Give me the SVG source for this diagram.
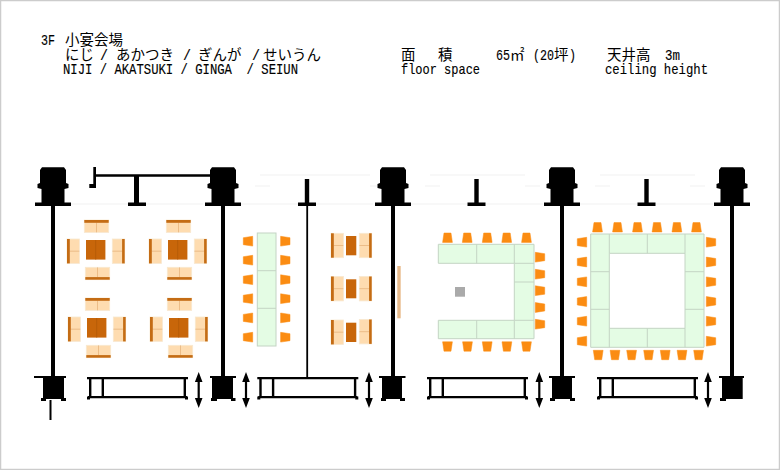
<svg xmlns="http://www.w3.org/2000/svg" width="780" height="470" viewBox="0 0 780 470">
<style>
text{font-family:"Liberation Mono","Noto Sans CJK JP",monospace;font-size:15px;fill:#000;white-space:pre;stroke:#000;stroke-width:.15}
.j{font-family:"Noto Sans CJK JP","Liberation Sans",sans-serif;font-size:14.5px;stroke:none}
.k{fill:#000;stroke:none}
.faint{stroke:#f1f1f1;fill:none;stroke-width:1}
.cu{fill:#fedcb0;stroke:#f8e8d0;stroke-width:.8}
.ba{fill:#c46c14}
.tb{fill:#c8660a}
.dv{stroke:#b25a08;stroke-width:.8}
.ch{fill:#fb8c12;stroke:#fb8c12;stroke-width:.5;stroke-linejoin:round}
.gt{fill:#e4fce4;stroke:#c4d4c4;stroke-width:1}
</style>
<defs>
<g id="coltop"><path class="k" d="M-11 167.3H11L13 170V183L15.5 184V188L11.5 189V202.5H18V206H-18V202.5H-11.5V189L-15.5 188V184L-13 183V170Z"/></g>
<g id="coltee"><rect class="k" x="-2.2" y="179" width="4.4" height="24"/><rect class="k" x="-9" y="202.5" width="18" height="3.5"/></g>
<g id="win"><path class="k" d="M0 0H101V2.2H0ZM2 1H4.4V20H2ZM14.6 1H17V20H14.6ZM96.6 1H99V20H96.6ZM1 19H100V21.2H1Z"/><rect class="k" x="0" y="19.5" width="3" height="3"/><rect class="k" x="98" y="19.5" width="3" height="3"/></g>
<g id="arr"><path class="k" d="M0 0L3.8 10H1.1V26H3.8L0 36L-3.8 26H-1.1V10H-3.8Z"/></g>
<g id="sofa-t"><rect class="cu" x="0" y="0" width="24.4" height="12.4"/><rect class="ba" x="0" y="0" width="24.4" height="2.8"/><path class="dv" d="M12.2 2.8V12.4" stroke-opacity=".3"/></g>
<g id="sofa-b"><rect class="cu" x="0" y="0" width="24.4" height="12.4"/><rect class="ba" x="0" y="9.8" width="24.4" height="2.6"/><path class="dv" d="M12.2 0V9.8" stroke-opacity=".3"/></g>
<g id="sofa-l"><rect class="cu" x="0" y="0" width="12.4" height="24.4"/><rect class="ba" x="0" y="0" width="2.8" height="24.4"/><path class="dv" d="M2.8 12.2H12.4" stroke-opacity=".3"/></g>
<g id="sofa-r"><rect class="cu" x="0" y="0" width="12.4" height="24.4"/><rect class="ba" x="9.8" y="0" width="2.6" height="24.4"/><path class="dv" d="M0 12.2H9.8" stroke-opacity=".3"/></g>
<g id="tab"><rect class="tb" x="0" y="0" width="19.4" height="19.6"/><path class="dv" d="M9.7 0V19.6"/></g>
<g id="ct"><path class="ch" d="M1.7 .3H8.7L10.1 9.7H.3Z"/></g>
<g id="cb"><path class="ch" d="M.3 .3H10.1L8.7 9.7H1.7Z"/></g>
<g id="cl"><path class="ch" d="M.3 1.7L9.7 .3V10.1L.3 8.7Z"/></g>
<g id="cr"><path class="ch" d="M.3 .3L9.7 1.7V8.7L.3 10.1Z"/></g>
<g id="set"><use href="#sofa-t" x="17.3" y="0"/><use href="#tab" x="19" y="20"/><use href="#sofa-l" x="0" y="19"/><use href="#sofa-r" x="45.3" y="19"/><use href="#sofa-b" x="18.3" y="47.3"/></g>
</defs>
<rect x="0.5" y="0.5" width="779" height="469" fill="#fff" stroke="#ccc" stroke-width="1.5"/>
<g id="title">
<text x="41" y="45" textLength="14" lengthAdjust="spacingAndGlyphs">3F</text><text class="j" x="65" y="45">小宴会場</text>
<text class="j" x="65" y="60">にじ</text><text x="100" y="60" textLength="8" lengthAdjust="spacingAndGlyphs">/</text><text class="j" x="116" y="60">あかつき</text><text x="183" y="60" textLength="8" lengthAdjust="spacingAndGlyphs">/</text><text class="j" x="198" y="60">ぎんが</text><text x="252" y="60" textLength="8" lengthAdjust="spacingAndGlyphs">/</text><text class="j" x="263" y="60">せいうん</text>
<text x="63" y="74" textLength="235" lengthAdjust="spacingAndGlyphs">NIJI / AKATSUKI / GINGA  / SEIUN</text>
<text class="j" x="401" y="60">面</text><text class="j" x="438" y="60">積</text>
<text x="496" y="60" textLength="14" lengthAdjust="spacingAndGlyphs">65</text><text class="j" x="510" y="60">㎡</text>
<text x="533" y="60" textLength="7" lengthAdjust="spacingAndGlyphs">(</text><text x="540" y="60" textLength="14" lengthAdjust="spacingAndGlyphs">20</text><text class="j" x="554" y="60">坪</text><text x="569" y="60" textLength="7" lengthAdjust="spacingAndGlyphs">)</text>
<text class="j" x="607" y="60">天井高</text><text x="665" y="60" textLength="15" lengthAdjust="spacingAndGlyphs">3m</text>
<text x="401" y="74" textLength="79" lengthAdjust="spacingAndGlyphs">floor space</text>
<text x="605" y="74" textLength="103" lengthAdjust="spacingAndGlyphs">ceiling height</text>
</g>
<g id="connectors">
<g id="faint-traces"><path class="faint" d="M71 204H128M146 204H203M240 204H298M316 204H373M410 204H467M486 204H543M580 204H637M656 204H713M260 175H370M430 175H525M600 175H695M255 186H270M370 186H385M425 186H440M525 186H540M595 186H610M690 186H705"/></g>
<path class="k" d="M51 205H55V377H51ZM221 205H225V377H221ZM391 205H395V377H391ZM560 205H564V377H560ZM730 205H734V377H730Z"/>
<rect class="k" x="306.3" y="205" width="1.8" height="172"/>
<path class="k" d="M93.3 167H96V188H89.3V184H93.3ZM96 174.3H210V176.7H96ZM134 176H139V203H134ZM128 202.5H146V206H128Z"/>
<rect class="k" x="49.5" y="400" width="2" height="20"/>
</g>
<g id="columns-top">
<use href="#coltop" x="53"/><use href="#coltop" x="223"/><use href="#coltop" x="393"/><use href="#coltop" x="562"/><use href="#coltop" x="732"/>
<use href="#coltee" x="307"/><use href="#coltee" x="476.5"/><use href="#coltee" x="646.5"/>
</g>
<g id="columns-bottom">
<g id="cb1"><path class="k" d="M34 376H66V378H64V398H66V401H61V399H46V401H41V398H43V378H34Z"/></g>
<g id="cb2"><path class="k" d="M210 376H236V378H233V398H235.5V401H231V399H217V401H211V398H212V378H210Z"/></g>
<g id="cb3"><path class="k" d="M379 376H405.5V378H402V398H405V401H400V399H386V401H381V398H382V378H379Z"/></g>
<g id="cb4"><path class="k" d="M549 376H575V378H572V398H575V401H570V399H555V401H550V398H552V378H549Z"/></g>
<g id="cb5"><path class="k" d="M719 376H744V378H742.7V399H726V401H720V398H722V378H719Z"/></g>
</g>
<g id="windows">
<use href="#win" x="87" y="377"/><use href="#win" x="257.3" y="377"/><use href="#win" x="427" y="377"/><use href="#win" x="597" y="377"/>
<use href="#arr" x="198.7" y="372"/><use href="#arr" x="246" y="372"/><use href="#arr" x="369" y="372"/><use href="#arr" x="539.3" y="372"/><use href="#arr" x="708" y="372"/>
</g>
<g id="room-niji">
<use href="#set" x="67" y="220"/><use href="#set" x="149" y="220"/><use href="#set" x="68" y="298"/><use href="#set" x="150" y="298"/>
</g>
<g id="room-akatsuki">
<rect class="gt" x="257.3" y="233" width="18.7" height="113"/><path class="gt" d="M257.3 270.7H276M257.3 308.3H276"/>
<use href="#cl" x="243" y="236"/><use href="#cl" x="243" y="255"/><use href="#cl" x="243" y="274.5"/><use href="#cl" x="243" y="293.5"/><use href="#cl" x="243" y="312.7"/><use href="#cl" x="243" y="332"/>
<use href="#cr" x="280.3" y="236"/><use href="#cr" x="280.3" y="255"/><use href="#cr" x="280.3" y="274.5"/><use href="#cr" x="280.3" y="293.5"/><use href="#cr" x="280.3" y="312.7"/><use href="#cr" x="280.3" y="332"/>
<use href="#sofa-l" x="331" y="233.3"/><rect class="tb" x="346" y="236" width="10.3" height="19.3"/><use href="#sofa-r" x="359.3" y="233.3"/>
<use href="#sofa-l" x="331" y="276.5"/><rect class="tb" x="346" y="279.3" width="10.3" height="19"/><use href="#sofa-r" x="359.3" y="276.5"/>
<use href="#sofa-l" x="331" y="320"/><rect class="tb" x="346" y="322.7" width="10.3" height="19.3"/><use href="#sofa-r" x="359.3" y="319.5"/>
<rect x="397.3" y="266" width="3.4" height="52.3" fill="#e8bb8c"/>
</g>
<g id="room-ginga">
<path class="gt" d="M438.3 244.3H534V338.7H438.3V320.3H514.3V263.3H438.3Z"/>
<path class="gt" d="M476.7 244.3V263.3M514.3 244.3V263.3M514.3 263.3H534M514.3 282H534M514.3 320.3H534M476.7 320.3V338.7M514.3 320.3V338.7"/>
<use href="#ct" x="442.3" y="232.7"/><use href="#ct" x="462" y="232.7"/><use href="#ct" x="482" y="232.7"/><use href="#ct" x="501.5" y="232.7"/><use href="#ct" x="521.3" y="232.7"/>
<use href="#cr" x="535" y="252"/><use href="#cr" x="535" y="269"/><use href="#cr" x="535" y="285.5"/><use href="#cr" x="535" y="302.3"/><use href="#cr" x="535" y="319"/>
<use href="#cb" x="442.3" y="341.5"/><use href="#cb" x="462.3" y="341.5"/><use href="#cb" x="482" y="341.5"/><use href="#cb" x="501.7" y="341.5"/><use href="#cb" x="521.3" y="341.5"/>
<rect x="455" y="287" width="10" height="9.7" fill="#aaa"/>
</g>
<g id="room-seiun">
<path class="gt" d="M590.7 234H704V347.3H590.7ZM609.3 253.3V328.3H685V253.3Z" fill-rule="evenodd"/>
<path class="gt" d="M609.3 234V253.3M647.3 234V253.3M685 234V253.3M647.3 328.3V347.3M609.3 328.3V347.3M685 328.3V347.3M590.7 271.7H609.3M590.7 309.3H609.3M685 271.7H704M685 309.3H704"/>
<use href="#ct" x="592.3" y="222.3"/><use href="#ct" x="612.3" y="222.3"/><use href="#ct" x="632.3" y="222.3"/><use href="#ct" x="651.8" y="222.3"/><use href="#ct" x="671.7" y="222.3"/><use href="#ct" x="691.3" y="222.3"/>
<use href="#cl" x="577" y="237"/><use href="#cl" x="577" y="256.8"/><use href="#cl" x="577" y="276.6"/><use href="#cl" x="577" y="296.3"/><use href="#cl" x="577" y="316"/><use href="#cl" x="577" y="336"/>
<use href="#cr" x="706" y="237"/><use href="#cr" x="706" y="256.8"/><use href="#cr" x="706" y="276.6"/><use href="#cr" x="706" y="296.3"/><use href="#cr" x="706" y="316"/><use href="#cr" x="706" y="336"/>
<use href="#cb" x="593" y="350"/><use href="#cb" x="609.8" y="350"/><use href="#cb" x="626.4" y="350"/><use href="#cb" x="643.4" y="350"/><use href="#cb" x="660" y="350"/><use href="#cb" x="676.8" y="350"/><use href="#cb" x="693.4" y="350"/>
</g>
</svg>
